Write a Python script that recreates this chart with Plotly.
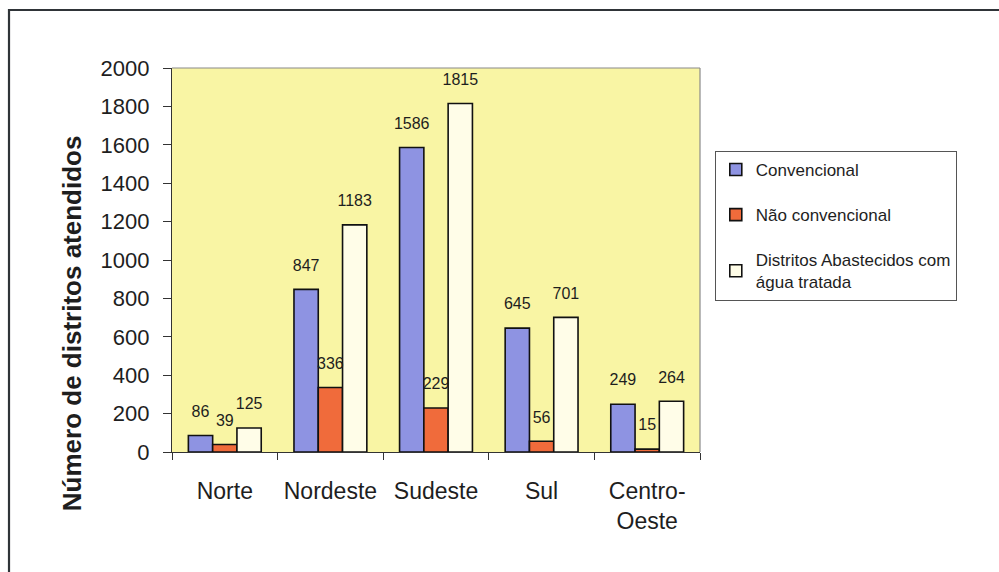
import plotly.graph_objects as go

regioes = ["Norte", "Nordeste", "Sudeste", "Sul", "Centro-<br>Oeste"]
convencional = [86, 847, 1586, 645, 249]
nao_convencional = [39, 336, 229, 56, 15]
agua_tratada = [125, 1183, 1815, 701, 264]

series = [
    ("Convencional", convencional, "#8e93e2"),
    ("Não convencional", nao_convencional, "#f06b3b"),
    ("Distritos Abastecidos com<br>água tratada", agua_tratada, "#fffde8"),
]

FONT = "Liberation Sans, Arial, sans-serif"
INK = "#1e1e1e"

fig = go.Figure()

for i, (nome, valores, cor) in enumerate(series):
    fig.add_trace(go.Bar(
        x=regioes, y=valores, name=nome,
        marker=dict(color=cor, line=dict(color="#111111", width=1.6)),
        offsetgroup=str(i), legendgroup=str(i),
    ))

# value labels floated above each bar (invisible markers set the gap)
for i, (nome, valores, cor) in enumerate(series):
    fig.add_trace(go.Scatter(
        x=regioes, y=valores, mode="markers+text",
        text=[str(v) for v in valores], textposition="top center",
        textfont=dict(family=FONT, size=16, color=INK),
        marker=dict(size=22, color="rgba(0,0,0,0)"),
        offsetgroup=str(i), legendgroup=str(i),
        showlegend=False, hoverinfo="skip", cliponaxis=False,
    ))

fig.update_layout(
    width=999, height=572,
    margin=dict(l=172, r=299, t=68, b=120),
    paper_bgcolor="white",
    plot_bgcolor="#f9f5a4",
    barmode="group", bargap=0.31, bargroupgap=0,
    scattermode="group",
    font=dict(family=FONT, color=INK),
    showlegend=True,
    legend=dict(
        x=1.028, y=0.784, xanchor="left", yanchor="top",
        font=dict(family=FONT, size=17, color=INK),
        bordercolor="#555555", borderwidth=1, bgcolor="white",
        tracegroupgap=20, traceorder="grouped",
    ),
    xaxis=dict(
        showline=True, linecolor="#333333", linewidth=1.2,
        ticks="outside", tickson="boundaries", ticklen=7, tickcolor="#333333",
        tickfont=dict(family=FONT, size=23, color=INK),
        ticklabelstandoff=18, showgrid=False,
    ),
    yaxis=dict(
        range=[0, 2000], dtick=200,
        showline=True, linecolor="#333333", linewidth=1.2,
        ticks="outside", ticklen=8, tickcolor="#333333",
        tickfont=dict(family=FONT, size=22, color=INK),
        ticklabelstandoff=9, showgrid=False, zeroline=False,
    ),
    annotations=[dict(
        text="<b>Número de distritos atendidos</b>",
        xref="paper", yref="paper", x=-0.189, y=0.336,
        xanchor="center", yanchor="middle",
        textangle=-90, showarrow=False,
        font=dict(family=FONT, size=26, color=INK),
    )],
    shapes=[
        # gray top and right edges of the plotting area
        dict(type="line", xref="paper", yref="paper", x0=0, x1=1, y0=1, y1=1,
             line=dict(color="#8a8a8a", width=1.2)),
        dict(type="line", xref="paper", yref="paper", x0=1, x1=1, y0=0, y1=1,
             line=dict(color="#8a8a8a", width=1.2)),
        # outer chart frame
        dict(type="rect", xref="paper", yref="paper",
             x0=-0.3087, x1=1.6, y0=-0.4, y1=1.151,
             line=dict(color="#2f3438", width=2.2), fillcolor="rgba(0,0,0,0)",
             layer="above"),
    ],
)

fig.write_html("out.html")
